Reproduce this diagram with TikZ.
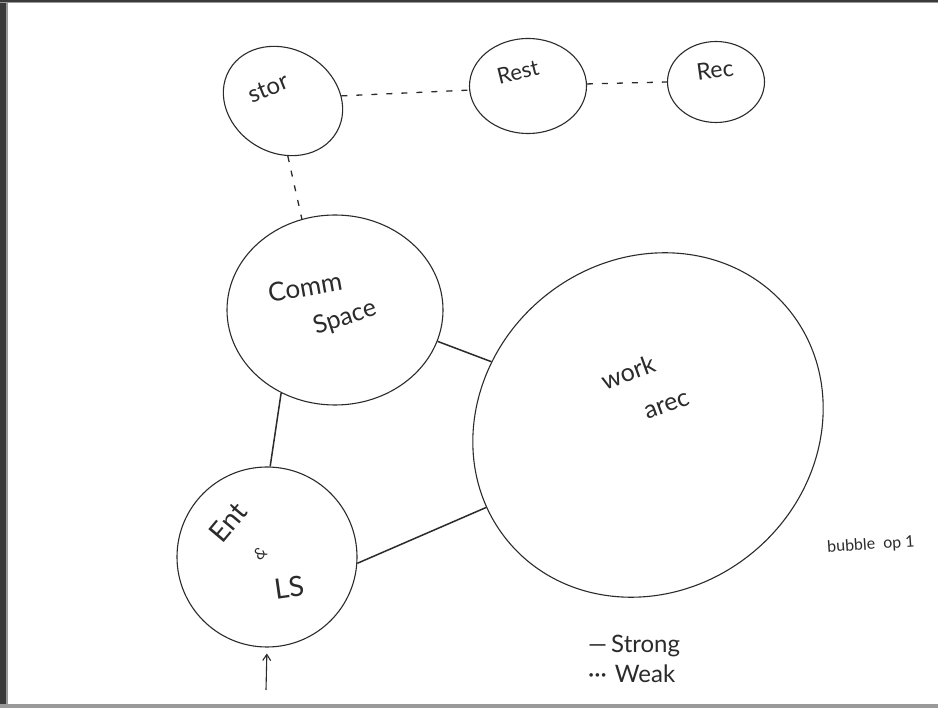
\documentclass[tikz,border=0pt]{standalone}
\usepackage{fontspec}
\setmainfont{Lato}
\usetikzlibrary{shapes.geometric,arrows.meta}
\definecolor{ink}{HTML}{2B2B2B}
\definecolor{framedark}{HTML}{3A3A3A}
\definecolor{frameedge}{HTML}{9A9A9A}
\begin{document}
\begin{tikzpicture}[x=1pt,y=-1pt,
  bubble/.style={ellipse, draw=ink, line width=1.1pt, inner sep=0pt},
  strong/.style={draw=ink, line width=1.5pt},
  weak/.style={draw=ink, line width=1.3pt, dash pattern=on 6pt off 9pt},
  hand/.style={text=ink, inner sep=0pt}]
\fill[white] (0,0) rectangle (938,708);
\useasboundingbox (0,0) rectangle (938,708);
\fill[framedark] (0,0) rectangle (6,708);
\fill[frameedge] (6,0) rectangle (8,708);
\fill[framedark] (0,0) rectangle (938,2);
\fill[frameedge] (0,2) rectangle (938,3);
\fill[frameedge] (0,704) rectangle (938,708);

% bubbles
\node[bubble, rotate=-30, minimum width=124, minimum height=104] (stor) at (283,101) {};
\node[bubble, minimum width=117, minimum height=95] (rest) at (528,86) {};
\node[bubble, minimum width=97, minimum height=81] (rec) at (716,82) {};
\node[bubble, minimum width=216, minimum height=190] (comm) at (335,310) {};
\node[bubble, rotate=40, minimum width=364, minimum height=330] (work) at (648,425) {};
\node[bubble, minimum width=180, minimum height=180] (ent) at (267,557) {};

% labels
\node[hand, font=\fontsize{24}{28}\selectfont, rotate=22] (stortext) at (268,88) {stor};
\node[hand, font=\fontsize{22}{26}\selectfont, rotate=14] (resttext) at (518,72) {Rest};
\node[hand, font=\fontsize{23}{26}\selectfont, rotate=8] (rectext) at (715,70) {Rec};
\node[hand, font=\fontsize{26}{30}\selectfont, rotate=10] (commtext) at (305,287) {Comm};
\node[hand, font=\fontsize{25}{30}\selectfont, rotate=18] (spacetext) at (345,318) {Space};
\node[hand, font=\fontsize{25}{30}\selectfont, rotate=20] (worktext) at (628,372) {work};
\node[hand, font=\fontsize{25}{30}\selectfont, rotate=20] (areatext) at (667,406) {arec};
\node[hand, font=\fontsize{28}{32}\selectfont, rotate=50] (enttext) at (228,522) {Ent};
\node[hand, font=\fontsize{16}{18}\selectfont, rotate=40] (amptext) at (260,553) {\&};
\node[hand, font=\fontsize{28}{32}\selectfont, rotate=8] (lstext) at (289,588) {LS};
\node[hand, font=\fontsize{16}{18}\selectfont, rotate=4] (captext) at (871,545) {bubble\enspace op 1};

% connectors
\draw[weak] (stor.35) -- (rest.184);
\draw[weak] (rest.2) -- (rec.180);
\draw[weak] (stor.-55) -- (comm.110);
\draw[strong] (comm.-17) -- (work.118);
\draw[strong] (comm.237) -- (ent.88);
\draw[strong] (ent.-4) -- (work.167);

% entry arrow
\coordinate (arrowfoot) at (266,690);
\draw[ink, line width=1.1pt, shorten >=6pt, -{Straight Barb[length=6pt,width=8pt]}] (arrowfoot) -- (ent.south);

% legend
\node[hand, font=\fontsize{24}{28}\selectfont, anchor=west] (strongkey) at (588,646) {—\,Strong};
\node[hand, font=\fontsize{24}{28}\selectfont, anchor=west] (weakkey) at (588,674) {···\,\,Weak};
\end{tikzpicture}
\end{document}
